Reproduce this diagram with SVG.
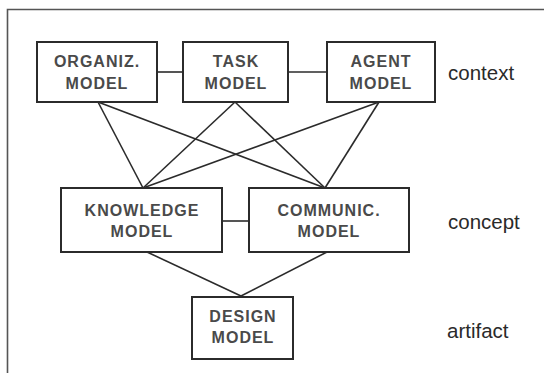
<svg xmlns="http://www.w3.org/2000/svg" width="544" height="373" viewBox="0 0 544 373">
  <style>
    .box { fill: #ffffff; stroke: #2b2b2b; stroke-width: 2; }
    .lbl { font-family: "Liberation Sans", Arial, sans-serif; font-size: 16px; font-weight: bold; fill: #4a4a4a; text-anchor: middle; letter-spacing: 1px; }
    .lvl { font-family: "Liberation Sans", Arial, sans-serif; font-size: 20.5px; fill: #2a2a2a; }
    .edge { stroke: #2b2b2b; stroke-width: 1.6; fill: none; }
    .frame { stroke: #555555; stroke-width: 1.6; fill: none; }
  </style>
  <rect width="544" height="373" fill="#ffffff"/>
  <!-- outer frame (top and left edges) -->
  <path class="frame" d="M7.5,373 V9.5 H544"/>

  <g id="connectors">
    <line class="edge" x1="157" y1="72" x2="183" y2="72"/>
    <line class="edge" x1="288" y1="72" x2="327" y2="72"/>
    <line class="edge" x1="222" y1="221" x2="249" y2="221"/>
    <line class="edge" x1="98" y1="102" x2="143" y2="188"/>
    <line class="edge" x1="98" y1="102" x2="325" y2="188"/>
    <line class="edge" x1="235" y1="102" x2="143" y2="188"/>
    <line class="edge" x1="235" y1="102" x2="325" y2="188"/>
    <line class="edge" x1="379" y1="102" x2="143" y2="188"/>
    <line class="edge" x1="379" y1="102" x2="325" y2="188"/>
    <line class="edge" x1="147" y1="252" x2="241" y2="296"/>
    <line class="edge" x1="327" y1="252" x2="241" y2="296"/>
  </g>

  <g id="organiz">
    <rect class="box" x="37" y="42" width="120" height="60"/>
    <text class="lbl" x="97" y="67">ORGANIZ.</text>
    <text class="lbl" x="97" y="89">MODEL</text>
  </g>
  <g id="task">
    <rect class="box" x="183" y="42" width="105" height="60"/>
    <text class="lbl" x="236" y="67">TASK</text>
    <text class="lbl" x="236" y="89">MODEL</text>
  </g>
  <g id="agent">
    <rect class="box" x="327" y="42" width="108" height="60"/>
    <text class="lbl" x="381" y="67">AGENT</text>
    <text class="lbl" x="381" y="89">MODEL</text>
  </g>
  <g id="knowledge">
    <rect class="box" x="61" y="188" width="161" height="64"/>
    <text class="lbl" x="142" y="216">KNOWLEDGE</text>
    <text class="lbl" x="142" y="237">MODEL</text>
  </g>
  <g id="communic">
    <rect class="box" x="249" y="188" width="160" height="64"/>
    <text class="lbl" x="329" y="216">COMMUNIC.</text>
    <text class="lbl" x="329" y="237">MODEL</text>
  </g>
  <g id="design">
    <rect class="box" x="192" y="297" width="101" height="62"/>
    <text class="lbl" x="243" y="321.5">DESIGN</text>
    <text class="lbl" x="243" y="343">MODEL</text>
  </g>

  <g id="levels">
    <text class="lvl" x="448" y="80">context</text>
    <text class="lvl" x="448" y="228.5">concept</text>
    <text class="lvl" x="447" y="337.5">artifact</text>
  </g>
</svg>
